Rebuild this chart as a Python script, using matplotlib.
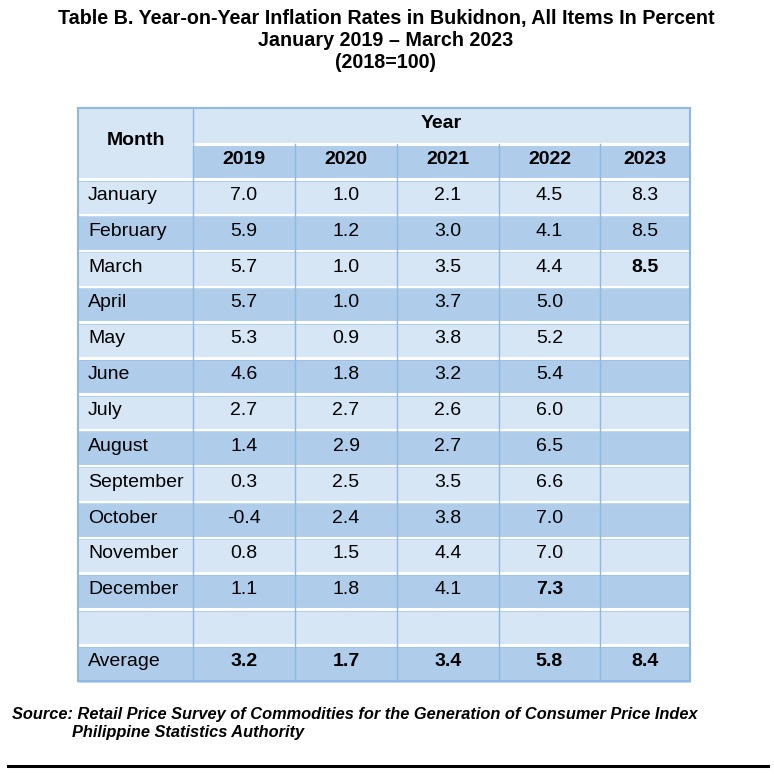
import matplotlib.pyplot as plt
from matplotlib.patches import Rectangle

plt.rcParams['font.family'] = ['Liberation Sans', 'DejaVu Sans']

months = ["January", "February", "March", "April", "May", "June", "July",
          "August", "September", "October", "November", "December"]
years = ["2019", "2020", "2021", "2022", "2023"]
y2019 = ["7.0", "5.9", "5.7", "5.7", "5.3", "4.6", "2.7", "1.4", "0.3", "-0.4", "0.8", "1.1"]
y2020 = ["1.0", "1.2", "1.0", "1.0", "0.9", "1.8", "2.7", "2.9", "2.5", "2.4", "1.5", "1.8"]
y2021 = ["2.1", "3.0", "3.5", "3.7", "3.8", "3.2", "2.6", "2.7", "3.5", "3.8", "4.4", "4.1"]
y2022 = ["4.5", "4.1", "4.4", "5.0", "5.2", "5.4", "6.0", "6.5", "6.6", "7.0", "7.0", "7.3"]
y2023 = ["8.3", "8.5", "8.5", "", "", "", "", "", "", "", "", ""]
averages = ["3.2", "1.7", "3.4", "5.8", "8.4"]
# cells shown in bold in the source table: (month index, year index)
bold_cells = [(2, 4), (11, 3)]

title = ["Table B. Year-on-Year Inflation Rates in Bukidnon, All Items In Percent",
         "January 2019 \u2013 March 2023", "(2018=100)"]
source = ["Source: Retail Price Survey of Commodities for the Generation of Consumer Price Index",
          "Philippine Statistics Authority"]

LIGHT = "#d7e6f5"
DARK = "#afcdea"
VLINE = "#8fb8e3"

# layout (pixels)
col_x = [78, 193, 295, 397, 499, 600, 690]
top = 108
hdr1 = 144
hdr2 = 179
row_h = 35.85

fig = plt.figure(figsize=(7.74, 7.84), dpi=100)
ax = fig.add_axes([0, 0, 1, 1])
ax.set_xlim(0, 774)
ax.set_ylim(784, 0)
ax.axis("off")

fs = 14

# header
ax.add_patch(Rectangle((col_x[0], top), col_x[-1] - col_x[0], hdr2 - top, color=LIGHT, lw=0))
ax.add_patch(Rectangle((col_x[1], hdr1), col_x[-1] - col_x[1], hdr2 - hdr1, color=DARK, lw=0))
ax.text((col_x[0] + col_x[1]) / 2, (top + hdr2) / 2 - 3, "Month", ha="center", va="center",
        fontsize=fs, fontweight="bold")
ax.text((col_x[1] + col_x[-1]) / 2, (top + hdr1) / 2 - 3, "Year", ha="center", va="center",
        fontsize=fs, fontweight="bold")
for j, yr in enumerate(years):
    ax.text((col_x[j + 1] + col_x[j + 2]) / 2, (hdr1 + hdr2) / 2 - 2, yr, ha="center",
            va="center", fontsize=fs, fontweight="bold")

series = [y2019, y2020, y2021, y2022, y2023]
rows = [(m, [s[i] for s in series]) for i, m in enumerate(months)]
rows.append(("", [""] * 5))
rows.append(("Average", averages))

for i, (label, vals) in enumerate(rows):
    y0 = hdr2 + i * row_h
    ax.add_patch(Rectangle((col_x[0], y0), col_x[-1] - col_x[0], row_h,
                           color=DARK if i % 2 else LIGHT, lw=0))
    yc = y0 + row_h / 2 - 1.5
    ax.text(col_x[0] + 10, yc, label, ha="left", va="center", fontsize=fs)
    for j, v in enumerate(vals):
        bold = label == "Average" or (i, j) in bold_cells
        ax.text((col_x[j + 1] + col_x[j + 2]) / 2, yc, v, ha="center", va="center",
                fontsize=fs, fontweight="bold" if bold else "normal")

bottom = hdr2 + len(rows) * row_h

# grid lines
for i in range(len(rows) + 1):
    y = hdr2 + i * row_h
    ax.plot([col_x[0], col_x[-1]], [y, y], color="white", lw=2.2, zorder=3)
    ax.plot([col_x[0], col_x[-1]], [y + 1.5, y + 1.5], color=VLINE, lw=0.4, zorder=3)
ax.plot([col_x[1], col_x[-1]], [hdr1, hdr1], color="white", lw=2.2, zorder=3)
ax.plot([col_x[1], col_x[1]], [top, bottom], color=VLINE, lw=1.0, zorder=4)
for x in col_x[2:-1]:
    ax.plot([x, x], [hdr1, bottom], color=VLINE, lw=1.0, zorder=4)
ax.add_patch(Rectangle((col_x[0], top), col_x[-1] - col_x[0], bottom - top,
                       fill=False, ec=VLINE, lw=1.5, zorder=5))

# title
for k, t in enumerate(title):
    ax.text(386, 18 + k * 22, t, ha="center", va="center", fontsize=14.2, fontweight="bold")

# source
ax.text(12, 714, source[0], ha="left", va="center", fontsize=11.8,
        fontweight="bold", style="italic")
ax.text(72, 733, source[1], ha="left", va="center", fontsize=11.8,
        fontweight="bold", style="italic")
ax.plot([8, 768], [766, 766], color="black", lw=2.2)

fig.savefig("out.png", dpi=100)
